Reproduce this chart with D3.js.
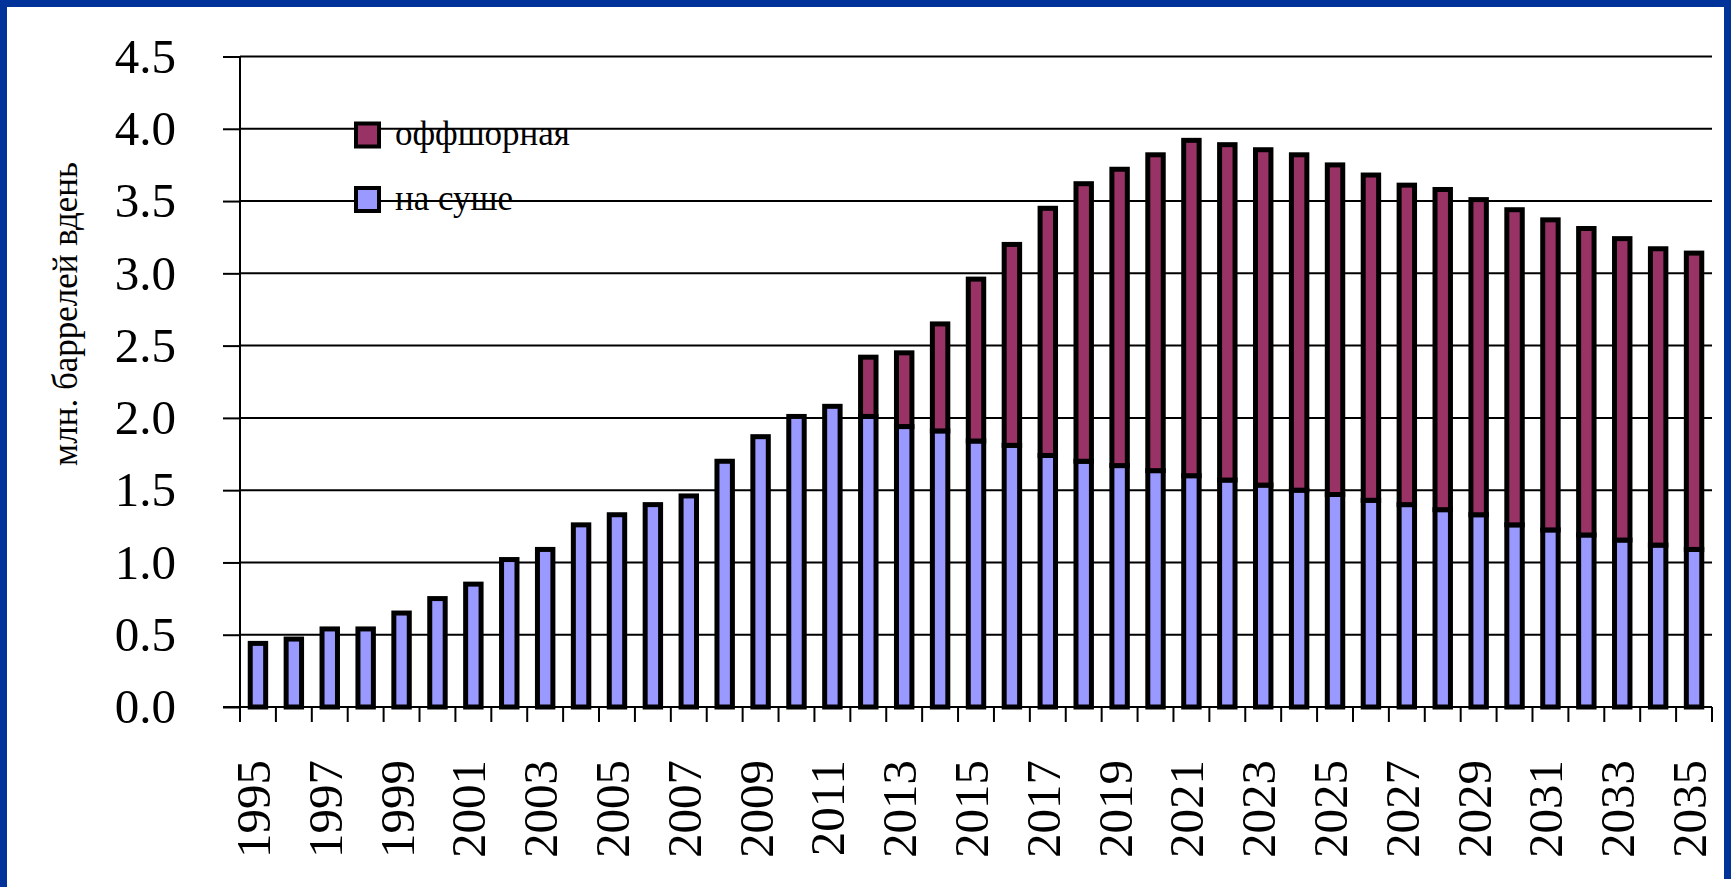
<!DOCTYPE html>
<html>
<head>
<meta charset="utf-8">
<script src="https://cdn.jsdelivr.net/npm/d3@7"></script>
<style>
  html, body { margin: 0; padding: 0; background: #ffffff; overflow: hidden; }
  svg { display: block; }
  text { font-family: "Liberation Serif", "Times New Roman", "DejaVu Serif", serif; fill: #000; }
</style>
</head>
<body>
<svg id="chart" width="1731" height="887"></svg>
<script>
// Production forecast, million barrels per day
const years = [1995, 1996, 1997, 1998, 1999, 2000, 2001, 2002, 2003, 2004,
               2005, 2006, 2007, 2008, 2009, 2010, 2011, 2012, 2013, 2014,
               2015, 2016, 2017, 2018, 2019, 2020, 2021, 2022, 2023, 2024,
               2025, 2026, 2027, 2028, 2029, 2030, 2031, 2032, 2033, 2034, 2035];

// onshore output ("на суше")
const onshore = [0.44, 0.47, 0.54, 0.54, 0.65, 0.75, 0.85, 1.02, 1.09, 1.26,
                 1.33, 1.40, 1.46, 1.70, 1.87, 2.01, 2.08, 2.01, 1.94, 1.91,
                 1.84, 1.81, 1.74, 1.70, 1.67, 1.635, 1.60, 1.57, 1.535, 1.50,
                 1.47, 1.43, 1.40, 1.365, 1.33, 1.26, 1.225, 1.19, 1.155, 1.12, 1.09];

// offshore output ("оффшорная")
const offshore = [0, 0, 0, 0, 0, 0, 0, 0, 0, 0,
                  0, 0, 0, 0, 0, 0, 0, 0.41, 0.51, 0.74,
                  1.12, 1.39, 1.71, 1.92, 2.05, 2.185, 2.32, 2.32, 2.32, 2.32,
                  2.28, 2.25, 2.21, 2.215, 2.18, 2.18, 2.145, 2.12, 2.085, 2.05, 2.05];

const yTicks = [0, 0.5, 1.0, 1.5, 2.0, 2.5, 3.0, 3.5, 4.0, 4.5];
const yearLabels = [1995, 1997, 1999, 2001, 2003, 2005, 2007, 2009, 2011, 2013,
                    2015, 2017, 2019, 2021, 2023, 2025, 2027, 2029, 2031, 2033, 2035];

const seriesKeys = ["onshore", "offshore"];
const seriesNames = { onshore: "на суше", offshore: "оффшорная" };
const seriesColors = { onshore: "#9999FF", offshore: "#993366" };
const legendOrder = ["offshore", "onshore"];
const yTitle = "млн. баррелей вдень";

const W = 1731, H = 887;
const plot = { left: 240, right: 1712, top: 56.5, bottom: 707 };
const frameColor = "#003399";

const svg = d3.select("#chart");

// page background and blue frame
svg.append("rect").attr("width", W).attr("height", H).attr("fill", "#ffffff");
svg.append("rect").attr("x", 0).attr("y", 0).attr("width", W).attr("height", 7).attr("fill", frameColor);
svg.append("rect").attr("x", 0).attr("y", 0).attr("width", 7).attr("height", H).attr("fill", frameColor);
svg.append("rect").attr("x", W - 7).attr("y", 0).attr("width", 7).attr("height", 879).attr("fill", frameColor);

const rows = years.map((yr, i) => ({ year: yr, onshore: onshore[i], offshore: offshore[i] }));

const x = d3.scaleBand()
  .domain(years)
  .range([plot.left, plot.right])
  .paddingInner(0.57)
  .paddingOuter(0.285);

const y = d3.scaleLinear()
  .domain([0, 4.5])
  .range([plot.bottom, plot.top]);

// horizontal gridlines
svg.append("g")
  .selectAll("line")
  .data(yTicks.filter(d => d > 0))
  .join("line")
  .attr("x1", plot.left).attr("x2", plot.right)
  .attr("y1", d => y(d)).attr("y2", d => y(d))
  .attr("stroke", "#000").attr("stroke-width", 2);

// y axis with ticks and labels
const yAxisG = svg.append("g")
  .attr("transform", `translate(${plot.left},0)`)
  .call(d3.axisLeft(y).tickValues(yTicks).tickFormat(d3.format(".1f")).tickSize(17).tickPadding(47));
yAxisG.select(".domain").remove();
yAxisG.selectAll(".tick line").attr("stroke", "#000").attr("stroke-width", 2);
yAxisG.selectAll(".tick text")
  .attr("font-family", "'Liberation Serif', 'Times New Roman', serif")
  .attr("font-size", 49)
  .attr("fill", "#000");

// stacked bars
const stacked = d3.stack().keys(seriesKeys)(rows);
const barG = svg.append("g");
stacked.forEach(layer => {
  barG.append("g")
    .selectAll("rect")
    .data(layer.filter(d => d[1] - d[0] > 0))
    .join("rect")
    .attr("x", d => x(d.data.year))
    .attr("width", x.bandwidth())
    .attr("y", d => y(d[1]))
    .attr("height", d => y(d[0]) - y(d[1]))
    .attr("fill", seriesColors[layer.key])
    .attr("stroke", "#000")
    .attr("stroke-width", 5);
});

// axis lines
svg.append("line")
  .attr("x1", plot.left).attr("x2", plot.left)
  .attr("y1", plot.top).attr("y2", plot.bottom + 15)
  .attr("stroke", "#000").attr("stroke-width", 2);
svg.append("line")
  .attr("x1", plot.left - 17).attr("x2", plot.right)
  .attr("y1", plot.bottom).attr("y2", plot.bottom)
  .attr("stroke", "#000").attr("stroke-width", 2);

// category boundary ticks under the x axis
const step = x.step();
const gap = (step - x.bandwidth()) / 2;
const boundaries = years.map(yr => x(yr) - gap).concat([x(years[years.length - 1]) + x.bandwidth() + gap]);
svg.append("g")
  .selectAll("line")
  .data(boundaries)
  .join("line")
  .attr("x1", d => d).attr("x2", d => d)
  .attr("y1", plot.bottom).attr("y2", plot.bottom + 15)
  .attr("stroke", "#000").attr("stroke-width", 2);

// rotated year labels
svg.append("g")
  .selectAll("text")
  .data(yearLabels)
  .join("text")
  .attr("transform", d => `translate(${x(d) + x.bandwidth() / 2 + 12},760) rotate(-90)`)
  .attr("text-anchor", "end")
  .attr("font-size", 49)
  .text(d => d);

// y axis title
svg.append("text")
  .attr("transform", "translate(77,314) rotate(-90)")
  .attr("text-anchor", "middle")
  .attr("font-size", 35)
  .text(yTitle);

// legend (no background, gridlines show through)
const legend = svg.append("g");
legendOrder.forEach((key, i) => {
  const cy = 135 + i * 64.5;
  legend.append("rect")
    .attr("x", 356).attr("y", cy - 11.5)
    .attr("width", 23).attr("height", 23)
    .attr("fill", seriesColors[key])
    .attr("stroke", "#000").attr("stroke-width", 4);
  legend.append("text")
    .attr("x", 395).attr("y", cy + 10)
    .attr("font-size", 35)
    .text(seriesNames[key]);
});
</script>
</body>
</html>
